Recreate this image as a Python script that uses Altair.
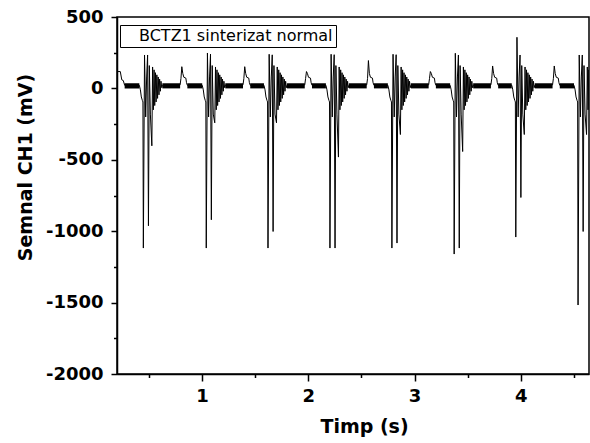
import altair as alt
import pandas as pd

# ---- values ----
# times (s) of the main negative spike of each pulse group
spike_t = [0.448, 1.040, 1.621, 2.204, 2.787, 3.373, 3.953, 4.539]
# depth of the 1st, 2nd and 3rd negative spikes (mV)
spike_main = [-1118, -1118, -1118, -1118, -1118, -1160, -1041, -1517]
spike_second = [-962, -920, -1002, -1118, -1083, -1118, -764, -1002]
spike_third = [-402, -241, -241, -481, -323, -442, -323, -323]
# heights of the two positive spikes (mV)
peak_first = [234, 248, 239, 239, 239, 246, 358, 234]
peak_second = [234, 240, 235, 236, 236, 234, 234, 234]
# height of the small positive bump between groups (mV)
bump_peak = [152, 152, 118, 195, 118, 157, 157, 150]

# common waveform of one group, offsets in ms from the main spike
wave_ms = [-38, -28, -19, -9, -4, 0, 11, 22, 31, 40, 48, 56, 66, 80, 87, 94,
           101, 107, 114, 120, 127, 134, 140, 147, 153, 160, 166, 173, 179,
           346, 354, 362, 371, 381, 400, 406, 414]
wave_mv = [22, -10, -60, -85, -95, "D1", "P1", -200, 80, "P2", "D2", 160, -180,
           "D3", 150, -150, 130, -120, 110, -95, 95, -70, 80, -45, 65, -20, 50,
           5, 22, 25, 70, "B", 105, 78, 72, 40, 22]

# start of the record (tail of a bump)
start_t = [0.200, 0.231, 0.245, 0.259, 0.272]
start_v = [118, 118, 60, 55, 22]

# noisy baseline band (mV)
band_lo = 0
band_hi = 36
band_start_ms = [179, 414]
band_end_ms = [346, -38]

series_name = "BCTZ1 sinterizat normal"
x_major = [1, 2, 3, 4]
x_minor = [0.5, 1.5, 2.5, 3.5, 4.5]
y_major = [-2000, -1500, -1000, -500, 0, 500]
y_minor = [-1750, -1250, -750, -250, 250]

# ---- build tables ----
rows_t = list(start_t)
rows_v = list(start_v)
for i, T in enumerate(spike_t):
    keys = {"D1": spike_main[i], "D2": spike_second[i], "D3": spike_third[i],
            "P1": peak_first[i], "P2": peak_second[i], "B": bump_peak[i]}
    for ms, v in zip(wave_ms, wave_mv):
        rows_t.append(T + ms / 1000.0)
        rows_v.append(keys[v] if isinstance(v, str) else v)

sig = pd.DataFrame({"t": rows_t, "v": rows_v, "series": series_name})
sig = sig.sort_values("t").reset_index(drop=True)
sig["order"] = range(len(sig))

b_x, b_x2 = [start_t[-1]], [spike_t[0] + band_end_ms[1] / 1000.0]
for i, T in enumerate(spike_t):
    b_x.append(T + band_start_ms[0] / 1000.0)
    b_x2.append(T + band_end_ms[0] / 1000.0)
    if i + 1 < len(spike_t):
        b_x.append(T + band_start_ms[1] / 1000.0)
        b_x2.append(spike_t[i + 1] + band_end_ms[1] / 1000.0)
band = pd.DataFrame({"x": b_x, "x2": b_x2, "lo": band_lo, "hi": band_hi})

FONT = "DejaVu Sans"
xs = alt.Scale(domain=[0.2, 4.642], nice=False, zero=False)
ys = alt.Scale(domain=[-2000, 500], nice=False, zero=False)

line = alt.Chart(sig).mark_line(strokeWidth=1, clip=True).encode(
    x=alt.X("t:Q", scale=xs, axis=alt.Axis(
        values=x_major, title="Timp (s)", orient="bottom", tickSize=7,
        labelPadding=6, titleX=247, titleY=58, titleBaseline="alphabetic",
        titleAlign="center", labelExpr="datum.value + ''")),
    y=alt.Y("v:Q", scale=ys, axis=alt.Axis(
        values=y_major, title="Semnal CH1 (mV)", orient="left", tickSize=6,
        labelPadding=8, titleX=-86, titleY=150, titleAngle=270,
        titleAlign="center", titleBaseline="alphabetic",
        labelExpr="datum.value + ''")),
    order="order:Q",
    color=alt.Color("series:N", scale=alt.Scale(range=["black"]),
                    legend=alt.Legend(
                        title=None, orient="none", legendX=3, legendY=8,
                        strokeColor="black", fillColor="white", padding=3,
                        symbolType="M0,0", symbolSize=0,
                        symbolStrokeWidth=0, symbolOpacity=0,
                        labelFont=FONT, labelFontSize=16, labelOffset=0,
                        labelColor="black", labelLimit=400)),
)

bands = alt.Chart(band).mark_rect(color="black", clip=True).encode(
    x=alt.X("x:Q", scale=xs, axis=alt.Axis(
        values=x_minor, labels=False, domain=False, title=None,
        orient="bottom", tickSize=3.5)),
    x2="x2:Q",
    y=alt.Y("lo:Q", scale=ys, axis=alt.Axis(
        values=y_minor, labels=False, domain=False, title=None,
        orient="left", tickSize=3.5)),
    y2="hi:Q",
)

chart = alt.layer(bands, line).resolve_axis(
    x="independent", y="independent"
).properties(
    width=472, height=357,
    autosize=alt.AutoSizeParams(type="none"),
    padding={"left": 117, "top": 17, "right": 1, "bottom": 69},
    background="white",
).configure_axis(
    grid=False, labelFont=FONT, labelFontWeight="bold", labelFontSize=18,
    titleFont=FONT, titleFontWeight="bold", titleFontSize=19,
    labelColor="black", titleColor="black", tickColor="black",
    domainColor="black", tickWidth=1.5, domainWidth=1.5,
).configure_view(stroke="black", strokeWidth=1.5)

chart.save("out.html", embed_options={"renderer": "svg", "actions": False})
